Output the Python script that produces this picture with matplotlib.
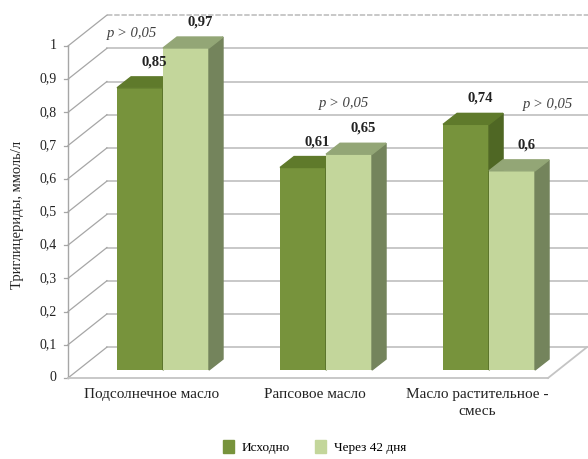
import matplotlib.pyplot as plt
from matplotlib.patches import Polygon, Patch

categories = ['Подсолнечное масло', 'Рапсовое масло', 'Масло растительное -\nсмесь']
before = [0.85, 0.61, 0.74]
after = [0.97, 0.65, 0.6]
series_names = ['Исходно', 'Через 42 дня']
yticks = [0, 0.1, 0.2, 0.3, 0.4, 0.5, 0.6, 0.7, 0.8, 0.9, 1]
pvalues = ['p > 0,05', 'p > 0,05', 'p > 0,05']
p_pos = [(-0.19, 1.015), (1.11, 0.804), (2.36, 0.801)]

plt.rcParams['font.family'] = ['Liberation Serif', 'DejaVu Serif']

dark = ('#77933c', '#5f7a2b', '#4f6724')
light = ('#c3d69b', '#93a676', '#74845c')

w = 0.282          # bar width (category units)
bdx, bdy = 0.086, 0.033   # bar depth
front_x = -0.583   # front axis position
front_dy = -0.024  # front plane offset
wdx, wdy = 0.239, 0.093   # wall depth

fig = plt.figure(figsize=(5.88, 4.59), dpi=100)
ax = fig.add_axes([0, 0, 1, 1])
ax.set_xlim(-1.0, 2.607)
ax.set_ylim(-0.268, 1.1145)
ax.axis('off')

grid_c = '#c4c4c4'
# back wall gridlines + diagonals
for t in yticks:
    fy = t + front_dy
    by = fy + wdy
    ls = (0, (3, 1)) if t == 1 else '-'
    ax.plot([front_x + wdx, 2.7], [by, by], color=grid_c, lw=1.3, ls=ls, zorder=1)
    ax.plot([front_x, front_x + wdx], [fy, by], color='#a6a6a6', lw=0.9, zorder=1)
    ax.plot([front_x - 0.025, front_x], [fy, fy], color='#a6a6a6', lw=0.9, zorder=1)
    ax.text(front_x - 0.07, fy, str(t).replace('.', ','), ha='right', va='center',
            fontsize=10, color='#222222')
# front axis and floor edge
ax.plot([front_x, front_x], [front_dy, 1 + front_dy], color='#a6a6a6', lw=1, zorder=1)
ax.plot([front_x, 2.362], [front_dy, front_dy], color='#c4c4c4', lw=1.3, zorder=1)
ax.plot([2.362, 2.362 + wdx], [front_dy, front_dy + wdy], color='#c4c4c4', lw=1.3, zorder=1)


def bar3d(x0, h, cols):
    ax.bar(x0, h, width=w, align='edge', color=cols[0], zorder=3)
    top = [(x0, h), (x0 + w, h), (x0 + w + bdx, h + bdy), (x0 + bdx, h + bdy)]
    side = [(x0 + w, 0), (x0 + w + bdx, bdy), (x0 + w + bdx, h + bdy), (x0 + w, h)]
    ax.add_patch(Polygon(side, closed=True, color=cols[2], zorder=3))
    ax.add_patch(Polygon(top, closed=True, color=cols[1], zorder=3))


for i in range(len(categories)):
    for x0, h, cols in [(i - w, before[i], dark), (i, after[i], light)]:
        bar3d(x0, h, cols)
        ax.text(x0 + w / 2 + bdx, h + 0.078, str(h).replace('.', ','), ha='center',
                va='center', fontsize=10.5, fontweight='bold', color='#222222', zorder=4)
    ax.text(i - 0.07, -0.055, categories[i], ha='center', va='top', fontsize=11,
            color='#222222', linespacing=1.4)
    ax.text(p_pos[i][0], p_pos[i][1], pvalues[i], ha='center', va='center',
            fontsize=10.5, style='italic', color='#404040')

ax.text(-0.89, 0.467, 'Триглицериды, ммоль/л', rotation=90, ha='center', va='center',
        fontsize=10.5, color='#222222')

handles = [Patch(color=dark[0]), Patch(color=light[0])]
fig.legend(handles, series_names, loc='center', bbox_to_anchor=(0.535, 0.026), ncol=2,
           frameon=False, fontsize=9.5, handlelength=0.8, handleheight=1.2,
           columnspacing=1.9, handletextpad=0.6)

plt.savefig('out.png', dpi=100)
